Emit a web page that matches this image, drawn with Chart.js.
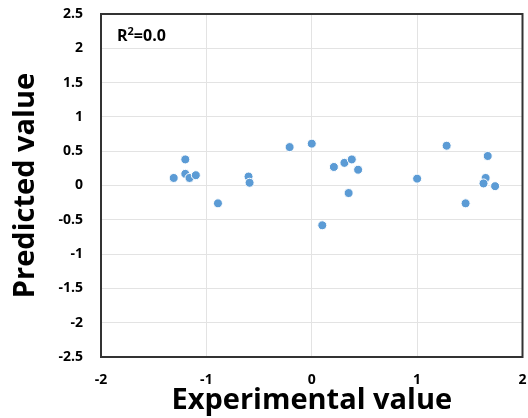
<!DOCTYPE html>
<html>
<head>
<meta charset="utf-8">
<script src="https://cdn.jsdelivr.net/npm/chart.js@4"></script>
<style>
  html, body { margin: 0; padding: 0; background: #fff; }
  #wrap { width: 528px; height: 418px; }
</style>
</head>
<body>
<div id="wrap"><canvas id="myChart" width="528" height="418"></canvas></div>
<script>
// experimental (x) and predicted (y) values
var experimental = [-1.31, -1.20, -1.20, -1.16, -1.10, -0.89, -0.60, -0.59,
                    -0.21, 0.00, 0.21, 0.31, 0.38, 0.44, 0.35, 0.10,
                    1.00, 1.28, 1.67, 1.65, 1.63, 1.74, 1.46];
var predicted    = [0.11, 0.38, 0.17, 0.11, 0.15, -0.26, 0.13, 0.04,
                    0.56, 0.61, 0.27, 0.33, 0.38, 0.23, -0.11, -0.58,
                    0.10, 0.58, 0.43, 0.11, 0.03, -0.01, -0.26];
var xTicks = [-2, -1, 0, 1, 2];
var yTicks = [2.5, 2, 1.5, 1, 0.5, 0, -0.5, -1, -1.5, -2, -2.5];
var r2Label = '0.0';

var points = experimental.map(function (x, i) { return { x: x, y: predicted[i] }; });

// khung viền quanh vùng vẽ + chú thích R²
var framePlugin = {
    id: 'frame',
    beforeDatasetsDraw: function (chart) {
        var a = chart.chartArea, c = chart.ctx;
        c.save();
        c.strokeStyle = '#333333';
        c.lineWidth = 2;
        c.strokeRect(a.left, a.top, a.right - a.left, a.bottom - a.top);
        c.restore();
    },
    afterDraw: function (chart) {
        var a = chart.chartArea, c = chart.ctx;
        c.save();
        c.fillStyle = '#000';
        c.textBaseline = 'alphabetic';
        c.font = 'bold 16px "Open Sans"';
        var x = a.left + 16, y = a.top + 27;
        c.fillText('R', x, y);
        x += c.measureText('R').width;
        c.font = 'bold 11px "Open Sans"';
        c.fillText('2', x, y - 6);
        x += c.measureText('2').width;
        c.font = 'bold 16px "Open Sans"';
        c.fillText('=' + r2Label, x, y);
        c.restore();
    }
};

function noPad(s) { s.paddingTop = 0; s.paddingBottom = 0; s.paddingLeft = 0; s.paddingRight = 0; }

var ctx = document.getElementById('myChart').getContext('2d');
var chart = new Chart(ctx, {
    type: 'scatter',
    data: {
        datasets: [{
            data: points,
            backgroundColor: '#5B9BD5',
            borderColor: '#ffffff',
            borderWidth: 1,
            pointRadius: 4.5,
        }]
    },
    options: {
        responsive: false,
        animation: false,
        layout: { padding: { top: 14, right: 3, left: 0, bottom: 0 } },
        plugins: { legend: { display: false }, tooltip: { enabled: false } },
        scales: {
            x: {
                type: 'linear',
                min: -2, max: 2,
                afterBuildTicks: function (s) { s.ticks = xTicks.map(function (v) { return { value: v }; }); },
                afterFit: function (s) { s.height = 61; noPad(s); },
                grid: { color: '#e3e3e3', drawTicks: false },
                border: { display: false },
                ticks: {
                    padding: 15, color: '#000', font: { family: 'Open Sans', weight: 'bold', size: 14 },
                    callback: function (v) { return String(v); }
                },
                title: {
                    display: true, text: 'Experimental value', color: '#000',
                    font: { family: 'Open Sans', weight: 'bold', size: 29 },
                    padding: { top: 0, bottom: 0 }
                }
            },
            y: {
                type: 'linear',
                min: -2.5, max: 2.5,
                afterBuildTicks: function (s) { s.ticks = yTicks.map(function (v) { return { value: v }; }); },
                afterFit: function (s) { s.width = 101; noPad(s); },
                grid: { color: '#e3e3e3', drawTicks: false },
                border: { display: false },
                ticks: {
                    padding: 18, color: '#000', font: { family: 'Open Sans', weight: 'bold', size: 14 },
                    callback: function (v) { return String(v); }
                },
                title: {
                    display: true, text: 'Predicted value', color: '#000',
                    font: { family: 'Open Sans', weight: 'bold', size: 29 },
                    padding: { top: 8, bottom: 0 }
                }
            }
        }
    },
    plugins: [framePlugin]
});
</script>
</body>
</html>
